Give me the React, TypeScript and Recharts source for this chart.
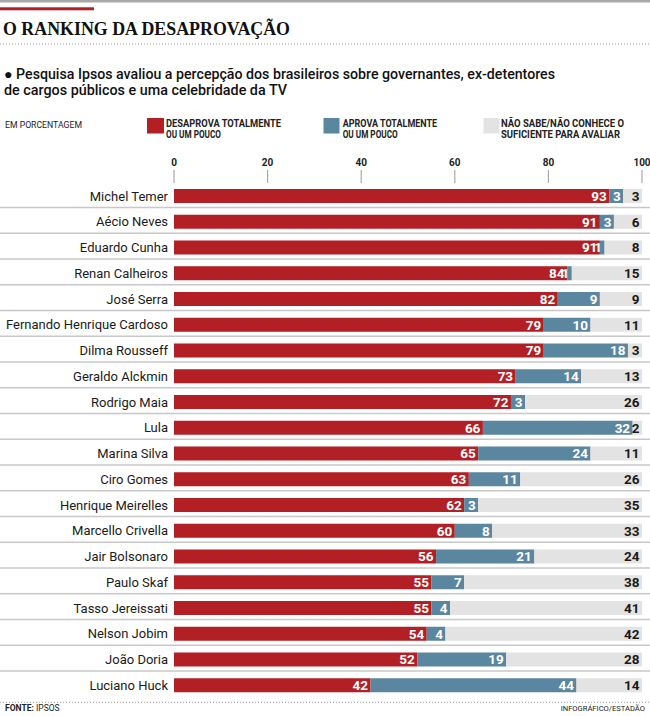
import React from "react";
import { BarChart, Bar, XAxis, YAxis, LabelList } from "recharts";

const categories = [
  "Michel Temer",
  "Aécio Neves",
  "Eduardo Cunha",
  "Renan Calheiros",
  "José Serra",
  "Fernando Henrique Cardoso",
  "Dilma Rousseff",
  "Geraldo Alckmin",
  "Rodrigo Maia",
  "Lula",
  "Marina Silva",
  "Ciro Gomes",
  "Henrique Meirelles",
  "Marcello Crivella",
  "Jair Bolsonaro",
  "Paulo Skaf",
  "Tasso Jereissati",
  "Nelson Jobim",
  "João Doria",
  "Luciano Huck",
];
const desaprova = [93, 91, 91, 84, 82, 79, 79, 73, 72, 66, 65, 63, 62, 60, 56, 55, 55, 54, 52, 42];
const aprova = [3, 3, 1, 1, 9, 10, 18, 14, 3, 32, 24, 11, 3, 8, 21, 7, 4, 4, 19, 44];
const naoSabe = [3, 6, 8, 15, 9, 11, 3, 13, 26, 2, 11, 26, 35, 33, 24, 38, 41, 42, 28, 14];
const xTicks = [0, 20, 40, 60, 80, 100];

const RED = "#b21f24";
const BLUE = "#5b86a0";
const GREY = "#e3e3e3";
const SANS = "Roboto, 'Liberation Sans', sans-serif";

// grey bar fills the row up to 100%, label shows the survey value
const data = categories.map((name, i) => ({
  name,
  desaprova: desaprova[i],
  aprova: aprova[i],
  resto: Math.max(0, 100 - desaprova[i] - aprova[i]),
  naoSabe: naoSabe[i],
}));

const makeLabel = (color: string) => (props: any) => {
  const { x, y, width, height, value } = props;
  return (
    <text
      x={x + width - 2.5}
      y={y + height / 2}
      dy="0.36em"
      textAnchor="end"
      fill={color}
      fontFamily={SANS}
      fontWeight={700}
      fontSize={13.5}
    >
      {value}
    </text>
  );
};

const XTick = (props: any) => {
  const { x, y, payload } = props;
  return (
    <text x={x} y={y - 2} textAnchor="middle" fill="#222" fontFamily={SANS} fontWeight={700} fontSize={10}>
      {payload.value}
    </text>
  );
};

const YTick = (props: any) => {
  const { x, y, payload, index } = props;
  return (
    <g>
      <text x={x} y={y} dy="0.36em" textAnchor="end" fill="#1a1a1a" fontFamily={SANS} fontSize={13}>
        {payload.value}
      </text>
      {index < categories.length - 1 && (
        <line x1={0} x2={650} y1={y + 11.7} y2={y + 11.7} stroke="#c8c8c8" strokeWidth={1.5} />
      )}
    </g>
  );
};

const Header = () => (
  <svg width={650} height={716} style={{ position: "absolute", left: 0, top: 0, pointerEvents: "none" }}>
    <rect x={0} y={0} width={650} height={2.5} fill="#a9a9a9" />
    <rect x={0} y={7.3} width={94} height={3} fill={RED} />
    <text
      x={3}
      y={34.5}
      fontFamily="'Liberation Serif', 'DejaVu Serif', serif"
      fontSize={19.5}
      fontWeight={700}
      fill="#111"
      textLength={287}
      lengthAdjust="spacingAndGlyphs"
    >
      O RANKING DA DESAPROVAÇÃO
    </text>
    <line x1={0} x2={650} y1={44} y2={44} stroke="#999" strokeWidth={1} strokeDasharray="1 2" />
    <text x={4} y={79} fontFamily={SANS} fontWeight={500} fontSize={14} fill="#111" textLength={551} lengthAdjust="spacingAndGlyphs">
      ● Pesquisa Ipsos avaliou a percepção dos brasileiros sobre governantes, ex-detentores
    </text>
    <text x={4} y={95} fontFamily={SANS} fontWeight={500} fontSize={14} fill="#111" textLength={283} lengthAdjust="spacingAndGlyphs">
      de cargos públicos e uma celebridade da TV
    </text>

    <text x={5} y={127.5} fontFamily={SANS} fontSize={9.5} fill="#222" textLength={77} lengthAdjust="spacingAndGlyphs">
      EM PORCENTAGEM
    </text>

    <rect x={147} y={118} width={17} height={15.5} fill={RED} />
    <text x={166} y={126.5} fontFamily={SANS} fontWeight={700} fontSize={10} fill="#222" textLength={115} lengthAdjust="spacingAndGlyphs">
      DESAPROVA TOTALMENTE
    </text>
    <text x={166} y={138} fontFamily={SANS} fontWeight={700} fontSize={10} fill="#222" textLength={55} lengthAdjust="spacingAndGlyphs">
      OU UM POUCO
    </text>

    <rect x={323.5} y={118} width={16} height={15.5} fill={BLUE} />
    <text x={342.7} y={126.5} fontFamily={SANS} fontWeight={700} fontSize={10} fill="#222" textLength={94.5} lengthAdjust="spacingAndGlyphs">
      APROVA TOTALMENTE
    </text>
    <text x={342.7} y={138} fontFamily={SANS} fontWeight={700} fontSize={10} fill="#222" textLength={55} lengthAdjust="spacingAndGlyphs">
      OU UM POUCO
    </text>

    <rect x={483.5} y={118} width={16} height={15.5} fill={GREY} />
    <text x={501} y={126.5} fontFamily={SANS} fontWeight={700} fontSize={10} fill="#222" textLength={123} lengthAdjust="spacingAndGlyphs">
      NÃO SABE/NÃO CONHECE O
    </text>
    <text x={501} y={138} fontFamily={SANS} fontWeight={700} fontSize={10} fill="#222" textLength={119} lengthAdjust="spacingAndGlyphs">
      SUFICIENTE PARA AVALIAR
    </text>

    <line x1={0} x2={650} y1={702.3} y2={702.3} stroke="#999" strokeWidth={1} strokeDasharray="1 2" />
    <text x={5} y={711} fontFamily={SANS} fontSize={8.5} fill="#222">
      <tspan fontWeight={700}>FONTE:</tspan> IPSOS
    </text>
    <text x={645} y={711} textAnchor="end" fontFamily={SANS} fontSize={7.6} fill="#222">
      INFOGRÁFICO/ESTADÃO
    </text>
  </svg>
);

export default function App() {
  return (
    <div style={{ position: "absolute", left: 0, top: 0, width: 650, height: 716, background: "#fff" }}>
      <BarChart
        width={650}
        height={716}
        data={data}
        layout="vertical"
        margin={{ top: 153, right: 8, bottom: 18, left: 0 }}
        barSize={14}
      >
        <XAxis
          type="number"
          orientation="top"
          domain={[0, 100]}
          ticks={xTicks}
          height={30}
          axisLine={false}
          tickSize={13}
          tickMargin={2}
          tickLine={{ stroke: "#aaa", strokeWidth: 1.2 }}
          tick={<XTick />}
          interval={0}
        />
        <YAxis
          type="category"
          dataKey="name"
          width={174}
          axisLine={false}
          tickLine={false}
          tickSize={0}
          tickMargin={6}
          tick={<YTick />}
          interval={0}
        />
        <Bar dataKey="desaprova" stackId="a" fill={RED} isAnimationActive={false}>
          <LabelList dataKey="desaprova" content={makeLabel("#fff")} />
        </Bar>
        <Bar dataKey="aprova" stackId="a" fill={BLUE} isAnimationActive={false}>
          <LabelList dataKey="aprova" content={makeLabel("#fff")} />
        </Bar>
        <Bar dataKey="resto" stackId="a" fill={GREY} isAnimationActive={false}>
          <LabelList dataKey="naoSabe" content={makeLabel("#1a1a1a")} />
        </Bar>
      </BarChart>
      <Header />
    </div>
  );
}
